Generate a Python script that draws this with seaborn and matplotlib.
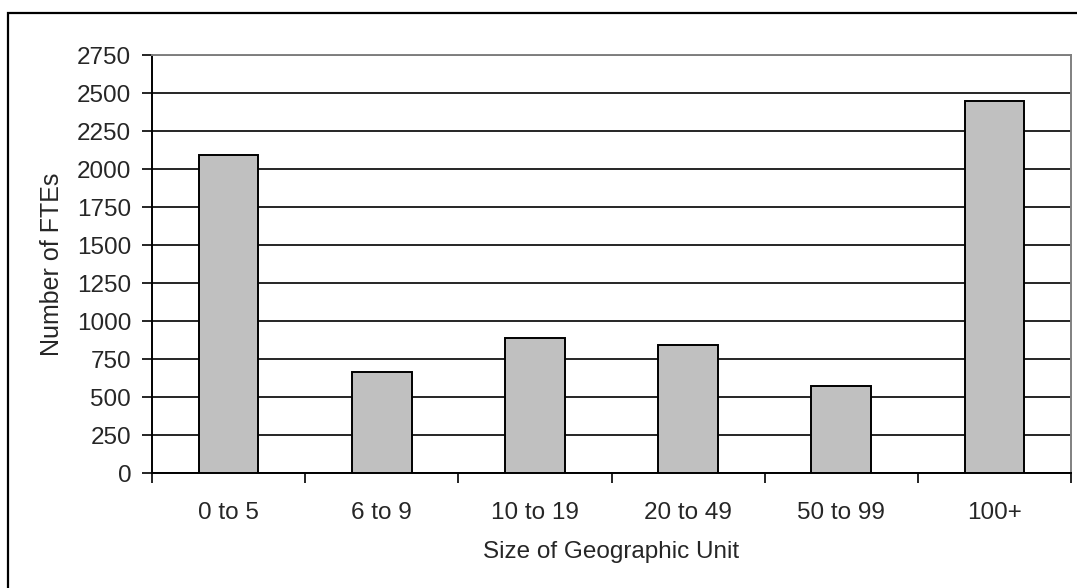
import matplotlib
matplotlib.use("Agg")
import matplotlib.pyplot as plt
import matplotlib.patches as mpatches
import numpy as np
import pandas as pd
import seaborn as sns

# data
categories = ["0 to 5", "6 to 9", "10 to 19", "20 to 49", "50 to 99", "100+"]
ftes = [2090, 665, 890, 840, 575, 2445]
y_ticks = list(range(0, 2751, 250))

df = pd.DataFrame({"size": categories, "ftes": ftes})

sns.set_style("white")
plt.rcParams["font.family"] = ["Liberation Sans", "DejaVu Sans"]

fig = plt.figure(figsize=(10.77, 5.88), dpi=100)
ax = fig.add_axes([152 / 1077, 1 - 473 / 588, (1071 - 152) / 1077, (473 - 55) / 588])

sns.barplot(data=df, x="size", y="ftes", color="#C0C0C0", edgecolor="black",
            linewidth=1.4, width=0.39, saturation=1, ax=ax, zorder=3)

ax.set_xlim(-0.5, len(categories) - 0.5)
ax.set_ylim(0, 2750)
ax.set_yticks(y_ticks)
ax.yaxis.grid(True, color="black", linewidth=1.2)
ax.set_axisbelow(True)

# category boundaries as major ticks, labels on minor ticks at centers
ax.set_xticks(np.arange(-0.5, len(categories), 1.0))
ax.set_xticklabels([])
ax.set_xticks(np.arange(len(categories)), minor=True)
ax.set_xticklabels(categories, minor=True)
ax.tick_params(axis="x", which="major", direction="out", length=7, width=1.2, color="black")
ax.tick_params(axis="x", which="minor", length=0, pad=21, labelsize=17.5)
ax.tick_params(axis="y", direction="out", length=7, width=1.2, color="black", pad=8, labelsize=17.5)
ax.tick_params(left=True, bottom=True)

for side in ["left", "bottom"]:
    ax.spines[side].set_color("black")
    ax.spines[side].set_linewidth(1.4)
for side in ["top", "right"]:
    ax.spines[side].set_visible(True)
    ax.spines[side].set_color("#808080")
    ax.spines[side].set_linewidth(1.4)

ax.set_xlabel("Size of Geographic Unit", fontsize=17.5, labelpad=12)
ax.set_ylabel("Number of FTEs", fontsize=18, labelpad=9)

# outer chart border (cut off at right and bottom in the reference)
border = mpatches.Rectangle((8 / 1077, -0.1), 1.2, 1.1 - 13 / 588,
                            transform=fig.transFigure, fill=False,
                            edgecolor="black", linewidth=1.6)
fig.patches.append(border)

fig.savefig("out.png", dpi=100)
